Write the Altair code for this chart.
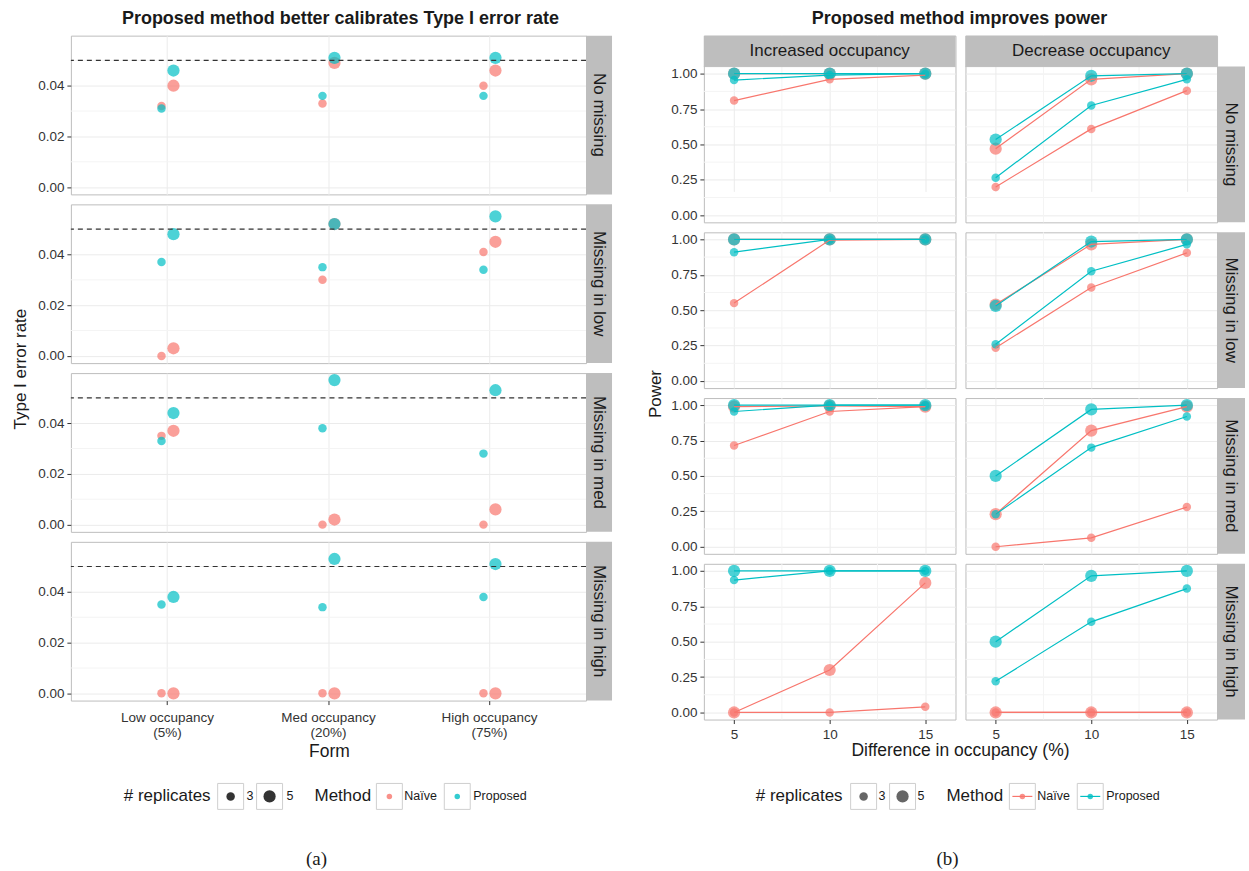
import altair as alt
import pandas as pd

# ---------------------------------------------------------------- style
FONT = "Liberation Sans"
SERIF = "Liberation Serif"
INK = "#1A1A1A"
TICK_INK = "#333333"
GRID_MAJOR = "#EBEBEB"
GRID_MINOR = "#F4F4F4"
PANEL_BORDER = "#BDBDBD"
STRIP_FILL = "#BEBEBE"
KEY_BORDER = "#CFCFCF"
TICK_FONT = 13.5

# ---------------------------------------------------------------- shared categories
METHODS = ["Naïve", "Proposed"]
METHOD_COLORS = ["#F8766D", "#00BFC4"]
REPLICATES = ["3", "5"]
SCENARIOS = ["No missing", "Missing in low", "Missing in med", "Missing in high"]

# ---------------------------------------------------------------- (a) Type I error rate
FORMS = ["Low occupancy (5%)", "Med occupancy (20%)", "High occupancy (75%)"]
NOMINAL_ALPHA = 0.05
T1_TICKS = [0.00, 0.02, 0.04]
T1_MINOR = [0.01, 0.03, 0.05]

T1_NAIVE_R3 = {
    "No missing":      [0.032, 0.033, 0.040],
    "Missing in low":  [0.000, 0.030, 0.041],
    "Missing in med":  [0.035, 0.000, 0.000],
    "Missing in high": [0.000, 0.000, 0.000],
}
T1_NAIVE_R5 = {
    "No missing":      [0.040, 0.049, 0.046],
    "Missing in low":  [0.003, 0.052, 0.045],
    "Missing in med":  [0.037, 0.002, 0.006],
    "Missing in high": [0.000, 0.000, 0.000],
}
T1_PROPOSED_R3 = {
    "No missing":      [0.031, 0.036, 0.036],
    "Missing in low":  [0.037, 0.035, 0.034],
    "Missing in med":  [0.033, 0.038, 0.028],
    "Missing in high": [0.035, 0.034, 0.038],
}
T1_PROPOSED_R5 = {
    "No missing":      [0.046, 0.051, 0.051],
    "Missing in low":  [0.048, 0.052, 0.055],
    "Missing in med":  [0.044, 0.057, 0.053],
    "Missing in high": [0.038, 0.053, 0.051],
}

# ---------------------------------------------------------------- (b) Power
DIRECTIONS = ["Increased occupancy", "Decrease occupancy"]
DIFFS = [5, 10, 15]
DIFF_MINOR = [7.5, 12.5]
POWER_TICKS = [0.0, 0.25, 0.5, 0.75, 1.0]
POWER_MINOR = [0.125, 0.375, 0.625, 0.875]

POWER_NAIVE_R3 = {
    "Increased occupancy": {
        "No missing":      [0.81, 0.96, 0.99],
        "Missing in low":  [0.55, 0.995, 1.00],
        "Missing in med":  [0.715, 0.955, 0.99],
        "Missing in high": [0.00, 0.00, 0.04],
    },
    "Decrease occupancy": {
        "No missing":      [0.20, 0.61, 0.88],
        "Missing in low":  [0.235, 0.66, 0.905],
        "Missing in med":  [0.00, 0.063, 0.28],
        "Missing in high": [0.00, 0.00, 0.00],
    },
}
POWER_NAIVE_R5 = {
    "Increased occupancy": {
        "No missing":      [1.00, 1.00, 1.00],
        "Missing in low":  [1.00, 1.00, 1.00],
        "Missing in med":  [0.99, 0.995, 0.99],
        "Missing in high": [0.00, 0.30, 0.915],
    },
    "Decrease occupancy": {
        "No missing":      [0.47, 0.96, 1.00],
        "Missing in low":  [0.54, 0.965, 1.00],
        "Missing in med":  [0.23, 0.82, 0.99],
        "Missing in high": [0.00, 0.00, 0.00],
    },
}
POWER_PROPOSED_R3 = {
    "Increased occupancy": {
        "No missing":      [0.955, 0.99, 1.00],
        "Missing in low":  [0.91, 1.00, 1.00],
        "Missing in med":  [0.955, 1.00, 1.00],
        "Missing in high": [0.935, 1.00, 1.00],
    },
    "Decrease occupancy": {
        "No missing":      [0.265, 0.775, 0.96],
        "Missing in low":  [0.26, 0.775, 0.965],
        "Missing in med":  [0.23, 0.70, 0.92],
        "Missing in high": [0.22, 0.64, 0.875],
    },
}
POWER_PROPOSED_R5 = {
    "Increased occupancy": {
        "No missing":      [1.00, 1.00, 1.00],
        "Missing in low":  [1.00, 1.00, 1.00],
        "Missing in med":  [1.00, 1.00, 1.00],
        "Missing in high": [1.00, 1.00, 1.00],
    },
    "Decrease occupancy": {
        "No missing":      [0.535, 0.985, 1.00],
        "Missing in low":  [0.53, 0.985, 1.00],
        "Missing in med":  [0.50, 0.97, 1.00],
        "Missing in high": [0.50, 0.965, 1.00],
    },
}

# ---------------------------------------------------------------- long tables
SERIES_T1 = [("Naïve", "3", T1_NAIVE_R3), ("Naïve", "5", T1_NAIVE_R5),
             ("Proposed", "3", T1_PROPOSED_R3), ("Proposed", "5", T1_PROPOSED_R5)]
t1_rows = []
for scen in SCENARIOS:
    for method, reps, table in SERIES_T1:
        for form, v in zip(FORMS, table[scen]):
            t1_rows.append({"Missing": scen, "Form": form, "Method": method,
                            "Reps": reps, "value": v})
t1 = pd.DataFrame(t1_rows)

SERIES_POWER = [("Naïve", "3", POWER_NAIVE_R3), ("Naïve", "5", POWER_NAIVE_R5),
                ("Proposed", "3", POWER_PROPOSED_R3), ("Proposed", "5", POWER_PROPOSED_R5)]
p_rows = []
for direction in DIRECTIONS:
    for scen in SCENARIOS:
        for method, reps, table in SERIES_POWER:
            for diff, v in zip(DIFFS, table[direction][scen]):
                p_rows.append({"Direction": direction, "Missing": scen, "Method": method,
                               "Reps": reps, "diff": diff, "value": v})
power = pd.DataFrame(p_rows)

ONE = pd.DataFrame({"k": [0]})

# ---------------------------------------------------------------- shared encodings
color_enc = alt.Color("Method:N", scale=alt.Scale(domain=METHODS, range=METHOD_COLORS), legend=None)
size_enc = alt.Size("Reps:O", scale=alt.Scale(domain=REPLICATES, range=[72, 150]), legend=None)


def text_at(text, x, y, size=17, weight="normal", align="center", angle=0, font=FONT, color=INK):
    return alt.Chart(ONE).mark_text(
        text=text, fontSize=size, fontWeight=weight, align=align, baseline="middle",
        angle=angle, font=font, color=color,
    ).encode(x=alt.value(x), y=alt.value(y))


def box_at(x1, y1, x2, y2, fill, stroke=None):
    kw = {"fill": fill}
    if stroke:
        kw.update(stroke=stroke, strokeWidth=1)
    return alt.Chart(ONE).mark_rect(**kw).encode(
        x=alt.value(x1), x2=alt.value(x2), y=alt.value(y1), y2=alt.value(y2))


def dot_at(x, y, size, color, opacity=1.0):
    return alt.Chart(ONE).mark_circle(size=size, color=color, opacity=opacity).encode(
        x=alt.value(x), y=alt.value(y))


def seg_at(x1, x2, y, color):
    return alt.Chart(ONE).mark_rule(color=color, strokeWidth=1.2).encode(
        x=alt.value(x1), x2=alt.value(x2), y=alt.value(y))


def right_strip(label, w, y0, y1, sw):
    d = pd.DataFrame({"label": [label]})
    rect = alt.Chart(d).mark_rect(color=STRIP_FILL).encode(
        x=alt.value(w), x2=alt.value(w + sw), y=alt.value(y0), y2=alt.value(y1))
    txt = alt.Chart(d).mark_text(angle=90, fontSize=17, font=FONT, color=INK,
                                 align="center", baseline="middle").encode(
        x=alt.value(w + sw / 2), y=alt.value((y0 + y1) / 2), text="label:N")
    return [rect, txt]


def top_strip(label, w, sh):
    d = pd.DataFrame({"label": [label]})
    rect = alt.Chart(d).mark_rect(color=STRIP_FILL).encode(
        x=alt.value(0), x2=alt.value(w), y=alt.value(0), y2=alt.value(sh))
    edge = alt.Chart(d).mark_rule(color=PANEL_BORDER, strokeWidth=1).encode(
        x=alt.value(0), x2=alt.value(w), y=alt.value(sh))
    txt = alt.Chart(d).mark_text(fontSize=17, font=FONT, color=INK,
                                 align="center", baseline="middle").encode(
        x=alt.value(w / 2), y=alt.value(sh / 2), text="label:N")
    return [rect, edge, txt]


# ---------------------------------------------------------------- (a) panels
A_W, A_H, A_STRIP = 516, 159, 26
A_BAND = A_W / 3.2          # one category step
DODGE = 12                  # half distance between the 3- and 5-replicate points
FORM_LABEL = ("[slice(datum.label, 0, indexof(datum.label, ' (')), "
              "slice(datum.label, indexof(datum.label, ' (') + 1)]")


def t1_panel(scen, bottom):
    y_enc = alt.Y("value:Q",
                  scale=alt.Scale(domain=[-0.00285, 0.05975], nice=False, zero=False),
                  axis=alt.Axis(values=T1_TICKS, format=".2f", title=None, labelFontSize=TICK_FONT,
                                tickSize=4, labelPadding=3, grid=True))
    if bottom:
        x_axis = alt.Axis(title=None, labelExpr=FORM_LABEL, labelFontSize=TICK_FONT,
                          labelLineHeight=15, tickSize=4, labelPadding=6, bandPosition=0.5,
                          labelAngle=0, grid=True)
    else:
        x_axis = alt.Axis(title=None, labels=False, ticks=False, bandPosition=0.5, grid=True)
    x_enc = alt.X("Form:N", sort=FORMS,
                  scale=alt.Scale(type="band", domain=FORMS, paddingInner=0, paddingOuter=0.1),
                  axis=x_axis)
    minor = alt.Chart(pd.DataFrame({"value": T1_MINOR})).mark_rule(
        color=GRID_MINOR, strokeWidth=1).encode(y=y_enc)
    pts = alt.Chart(t1[t1.Missing == scen]).mark_circle(opacity=0.7).encode(
        x=x_enc,
        xOffset=alt.XOffset("Reps:N", scale=alt.Scale(
            domain=REPLICATES, range=[A_BAND / 2 - DODGE, A_BAND / 2 + DODGE])),
        y=y_enc, color=color_enc, size=size_enc)
    ref = alt.Chart(pd.DataFrame({"value": [NOMINAL_ALPHA]})).mark_rule(
        color="#333333", strokeDash=[5, 4], strokeWidth=1.1).encode(y=y_enc)
    return alt.layer(minor, pts, ref, *right_strip(scen, A_W, 0, A_H, A_STRIP)).properties(
        width=A_W, height=A_H, view=alt.ViewBackground(stroke=PANEL_BORDER, strokeWidth=1))


grid_a = alt.vconcat(*[t1_panel(s, i == len(SCENARIOS) - 1) for i, s in enumerate(SCENARIOS)],
                     spacing=8)

# ---------------------------------------------------------------- (b) panels
B_W, B_H, B_STRIP_W, B_STRIP_H = 252, 156, 28, 31


def power_panel(direction, scen, first_col, first_row, last_col, last_row):
    # the top row carries its column strip inside the view, above the plotting range
    top = B_STRIP_H if first_row else 0
    h = B_H + top
    if last_row:
        x_axis = alt.Axis(values=DIFFS, format="d", title=None, labelFontSize=TICK_FONT,
                          tickSize=4, labelPadding=4, grid=True)
    else:
        x_axis = alt.Axis(values=DIFFS, labels=False, ticks=False, title=None, grid=True)
    if first_col:
        y_axis = alt.Axis(values=POWER_TICKS, format=".2f", title=None, labelFontSize=TICK_FONT,
                          tickSize=4, labelPadding=3, grid=True)
    else:
        y_axis = alt.Axis(values=POWER_TICKS, labels=False, ticks=False, title=None, grid=True)
    x_enc = alt.X("diff:Q", scale=alt.Scale(domain=[3.42, 16.58], nice=False, zero=False),
                  axis=x_axis)
    y_enc = alt.Y("value:Q", scale=alt.Scale(domain=[-0.05, 1.05], nice=False, zero=False,
                                             range=[h, top]),
                  axis=y_axis)
    minor_x = alt.Chart(pd.DataFrame({"diff": DIFF_MINOR})).mark_rule(
        color=GRID_MINOR, strokeWidth=1).encode(x=x_enc)
    minor_y = alt.Chart(pd.DataFrame({"value": POWER_MINOR})).mark_rule(
        color=GRID_MINOR, strokeWidth=1).encode(y=y_enc)
    d = power[(power.Direction == direction) & (power.Missing == scen)]
    pts = alt.Chart(d).mark_circle(opacity=0.7).encode(
        x=x_enc, y=y_enc, color=color_enc, size=size_enc)
    lines = alt.Chart(d).mark_line(strokeWidth=1.2).encode(
        x=x_enc, y=y_enc, color=color_enc, detail="Reps:N")
    layers = [minor_x, minor_y, pts, lines]
    if first_row:
        layers += top_strip(direction, B_W, B_STRIP_H)
    if last_col:
        layers += right_strip(scen, B_W, top, h, B_STRIP_W)
    return alt.layer(*layers).properties(
        width=B_W, height=h, view=alt.ViewBackground(stroke=PANEL_BORDER, strokeWidth=1))


rows_b = []
for i, scen in enumerate(SCENARIOS):
    cells = [power_panel(direction, scen, j == 0, i == 0, j == len(DIRECTIONS) - 1,
                         i == len(SCENARIOS) - 1)
             for j, direction in enumerate(DIRECTIONS)]
    rows_b.append(alt.hconcat(*cells, spacing=8))
grid_b = alt.vconcat(*rows_b, spacing=8)

# ---------------------------------------------------------------- axis titles at the side
ytitle_a = text_at("Type I error rate", 20, 334, angle=270).properties(width=35, height=666)
ytitle_b = text_at("Power", 42, 359, angle=270).properties(width=55, height=682)

middle = alt.hconcat(ytitle_a, grid_a, ytitle_b, grid_b, spacing=0)

# ---------------------------------------------------------------- titles
top = alt.layer(
    text_at("Proposed method better calibrates Type I error rate", 340, 17, size=18, weight="bold"),
    text_at("Proposed method improves power", 960, 17, size=18, weight="bold"),
).properties(width=1249, height=32)

# ---------------------------------------------------------------- x titles, legends, captions
B0 = 748  # top of the footer block


def fy(y):
    return y - B0


KEY = 26
SMALL, BIG = 72, 150
footer_layers = [
    text_at("Form", 329, fy(750), size=17.5),
    text_at("Difference in occupancy (%)", 961, fy(749), size=17.5),
    # legend (a)
    text_at("# replicates", 123, fy(794), align="left"),
    box_at(217, fy(781), 217 + KEY, fy(807), "white", KEY_BORDER),
    dot_at(230, fy(794), SMALL, "#333333"),
    text_at("3", 246, fy(794), size=12.5, align="left"),
    box_at(256, fy(781), 256 + KEY, fy(807), "white", KEY_BORDER),
    dot_at(269, fy(794), BIG, "#333333"),
    text_at("5", 286, fy(794), size=12.5, align="left"),
    text_at("Method", 314, fy(794), align="left"),
    box_at(376, fy(781), 376 + KEY, fy(807), "white", KEY_BORDER),
    dot_at(389, fy(794), 30, METHOD_COLORS[0], 0.8),
    text_at("Naïve", 404, fy(794), size=12.5, align="left"),
    box_at(444, fy(781), 444 + KEY, fy(807), "white", KEY_BORDER),
    dot_at(457, fy(794), 30, METHOD_COLORS[1], 0.8),
    text_at("Proposed", 473, fy(794), size=12.5, align="left"),
    # legend (b)
    text_at("# replicates", 756, fy(794), align="left"),
    box_at(851, fy(781), 851 + KEY, fy(807), "white", KEY_BORDER),
    dot_at(864, fy(794), SMALL, "#000000", 0.6),
    text_at("3", 879, fy(794), size=12.5, align="left"),
    box_at(890, fy(781), 890 + KEY, fy(807), "white", KEY_BORDER),
    dot_at(903, fy(794), BIG, "#000000", 0.6),
    text_at("5", 918, fy(794), size=12.5, align="left"),
    text_at("Method", 947, fy(794), align="left"),
    box_at(1010, fy(781), 1010 + KEY, fy(807), "white", KEY_BORDER),
    seg_at(1013, 1033, fy(794), METHOD_COLORS[0]),
    dot_at(1023, fy(794), 30, METHOD_COLORS[0], 0.8),
    text_at("Naïve", 1038, fy(794), size=12.5, align="left"),
    box_at(1078, fy(781), 1078 + KEY, fy(807), "white", KEY_BORDER),
    seg_at(1081, 1101, fy(794), METHOD_COLORS[1]),
    dot_at(1091, fy(794), 30, METHOD_COLORS[1], 0.8),
    text_at("Proposed", 1107, fy(794), size=12.5, align="left"),
    # captions
    text_at("(a)", 316, fy(857), size=19, font=SERIF),
    text_at("(b)", 948, fy(857), size=19, font=SERIF),
]
footer = alt.layer(*footer_layers).properties(width=1249, height=871 - B0)

chart = alt.vconcat(top, middle, footer, spacing=0).properties(
    padding=0, background="white"
).configure_view(stroke="transparent").configure_axis(
    labelFont=FONT, labelColor=TICK_INK, tickColor=TICK_INK, domain=False,
    gridColor=GRID_MAJOR, gridWidth=1, minExtent=0, titleFont=FONT,
)

chart.save("out.html", embed_options={"renderer": "svg", "actions": False})
